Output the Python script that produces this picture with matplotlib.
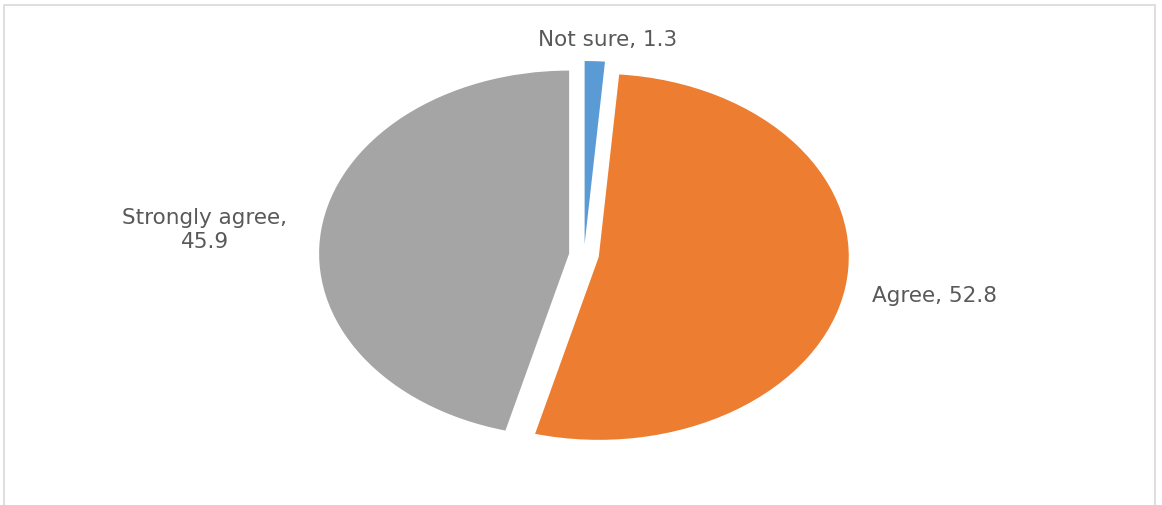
import matplotlib.pyplot as plt
from matplotlib.patches import Rectangle

# survey answers (%)
labels = ['Not sure', 'Agree', 'Strongly agree']
values = [1.3, 52.8, 45.9]
colors = ['#5B9BD5', '#ED7D31', '#A5A5A5']

fig = plt.figure(figsize=(11.62, 5.05), dpi=100)
ax = fig.add_axes([0, 0, 1, 1])

ax.pie(values, colors=colors, startangle=90, counterclock=False,
       explode=[0.06] * len(values), radius=1)

# stretched pie: 1 unit = 250 px wide, 183 px tall
ax.set_aspect('auto')
ax.set_xlim(-584 / 250, (1162 - 584) / 250)
ax.set_ylim(-250 / 183, 255 / 183)
ax.axis('off')

txt = dict(color='#595959', fontsize=15.5, family='DejaVu Sans', transform=ax.transAxes)
ax.text(0.523, 0.921, f'{labels[0]}, {values[0]}', ha='center', va='center', **txt)
ax.text(0.750, 0.414, f'{labels[1]}, {values[1]}', ha='left', va='center', **txt)
ax.text(0.176, 0.545, f'{labels[2]},\n{values[2]}', ha='center', va='center',
        multialignment='center', linespacing=1.25, **txt)

# chart frame
fig.patches.append(Rectangle((4 / 1162, -0.1), 1151 / 1162, 1.1 - 5 / 505,
                             transform=fig.transFigure, fill=False,
                             edgecolor='#D9D9D9', linewidth=1.2))

fig.savefig('out.png', dpi=100)
